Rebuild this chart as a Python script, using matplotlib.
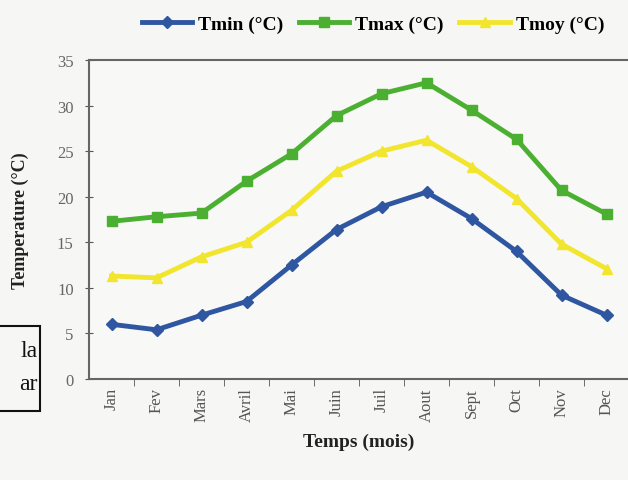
import matplotlib.pyplot as plt
from matplotlib.patches import Rectangle

months = ["Jan", "Fev", "Mars", "Avril", "Mai", "Juin", "Juil", "Aout", "Sept", "Oct", "Nov", "Dec"]
tmin = [6.0, 5.4, 7.0, 8.5, 12.5, 16.4, 18.9, 20.5, 17.6, 14.0, 9.2, 7.0]
tmax = [17.3, 17.8, 18.2, 21.7, 24.7, 28.9, 31.3, 32.5, 29.5, 26.3, 20.7, 18.1]
tmoy = [11.3, 11.1, 13.4, 15.0, 18.5, 22.8, 25.0, 26.2, 23.3, 19.8, 14.8, 12.1]
yticks = [0, 5, 10, 15, 20, 25, 30, 35]

plt.rcParams['font.family'] = ['Liberation Serif', 'DejaVu Serif']

W, H = 628, 481
fig = plt.figure(figsize=(W / 100, H / 100), dpi=100)
fig.patch.set_facecolor('#f6f6f4')

# axes box in pixels: left 89, right ~629, top 61, bottom 380
ax = fig.add_axes([89 / W, (H - 380) / H, 540 / W, 319 / H])
ax.set_facecolor('#f8f8f6')

x = list(range(len(months)))
ax.plot(x, tmin, color='#2f56a0', lw=3.5, marker='D', ms=6, label='Tmin (°C)')
ax.plot(x, tmax, color='#4bb031', lw=3.5, marker='s', ms=7.5, label='Tmax (°C)')
ax.plot(x, tmoy, color='#f2e52e', lw=3.5, marker='^', ms=7.5, label='Tmoy (°C)')

ax.set_xlim(-0.5, 11.5)
ax.set_ylim(0, 35)
ax.set_yticks(yticks)
ax.set_xticks(x)
ax.set_xticklabels(months, rotation=90, color='#555555', fontsize=12)
ax.tick_params(axis='x', length=0, pad=6)
ax.set_xticks([i + 0.5 for i in x], minor=True)
ax.tick_params(axis='x', which='minor', length=5, direction='out', color='#555555')
ax.tick_params(axis='y', length=6, direction='inout', color='#555555', labelcolor='#666666', labelsize=12, pad=8)

for s in ['left', 'bottom', 'top']:
    ax.spines[s].set_color('#666666')
    ax.spines[s].set_linewidth(1.5)
ax.spines['right'].set_visible(False)

ax.set_ylabel('Temperature (°C)', fontsize=13, fontweight='bold', color='#222222', labelpad=20)
ax.set_xlabel('Temps (mois)', fontsize=14, fontweight='bold', color='#222222', labelpad=8)

fig.legend(loc='center', bbox_to_anchor=(373 / W, (H - 25) / H), ncol=3, frameon=False,
           prop={'weight': 'bold', 'size': 14}, handlelength=2.6, handletextpad=0.3,
           columnspacing=0.8)

# cut-off box at the left edge of the scan
fig.patches.append(Rectangle((-5 / W, (H - 412) / H), 45 / W, 85 / H, transform=fig.transFigure,
                             fill=False, edgecolor='#111111', lw=1.5))
fig.text(38 / W, (H - 352) / H, 'la', ha='right', va='center', fontsize=17, color='#111111')
fig.text(38 / W, (H - 385) / H, 'ar', ha='right', va='center', fontsize=17, color='#111111')

fig.savefig('out.png', dpi=100, facecolor=fig.get_facecolor())
